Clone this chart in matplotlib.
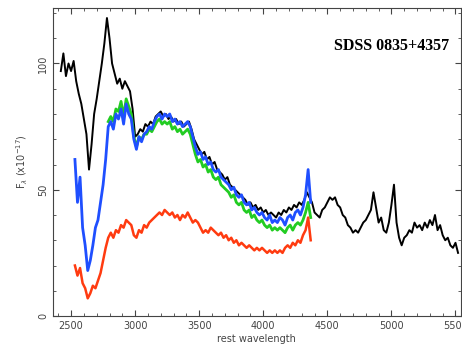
import numpy as np
import matplotlib
matplotlib.use("Agg")
import matplotlib.pyplot as plt
from matplotlib.ticker import MultipleLocator

# flux values, 20 A steps
black_start = 2420
black_flux = [97, 104, 95, 100, 97, 101, 93, 88, 84, 78, 72, 58, 68, 80, 86, 93, 100, 108, 118, 110,
              100, 96, 92, 94, 90, 93, 91, 89, 82, 71, 72, 74, 73, 76, 75, 77, 76, 79, 80, 81,
              79, 80, 78, 79, 77, 78, 76, 77, 75, 76, 77, 74, 70, 68, 66, 64, 65, 62, 63, 60,
              61, 58, 57, 56, 54, 55, 52, 51, 50, 49, 48, 47, 46, 44, 45, 43, 44, 42, 43, 41,
              42, 40, 41, 40, 39, 41, 40, 42, 41, 43, 42, 44, 43, 45, 44, 46, 49, 47, 45, 41,
              40, 39, 42, 43, 45, 47, 46, 47, 44, 43, 40, 39, 36, 35, 33, 34, 33, 35, 37, 38,
              40, 42, 49, 43, 37, 39, 34, 33, 37, 44, 52, 37, 31, 28, 31, 32, 34, 33, 37, 35,
              36, 34, 37, 35, 38, 36, 40, 34, 36, 32, 30, 31, 28, 27, 29, 25]

blue_start = 2530
blue_flux = [62, 45, 55, 35, 28, 18, 22, 28, 35, 38, 45, 52, 62, 75, 77, 74, 80, 78, 82, 76,
             84, 80, 78, 70, 66, 71, 69, 72, 73, 75, 74, 77, 79, 80, 78, 80, 79, 80, 77, 78,
             76, 77, 75, 76, 77, 75, 71, 67, 64, 65, 62, 63, 60, 61, 58, 57, 58, 55, 54, 53,
             52, 50, 51, 48, 47, 48, 45, 44, 45, 42, 43, 41, 40, 41, 39, 38, 40, 37, 38, 37,
             39, 38, 36, 39, 40, 38, 41, 42, 40, 43, 48, 58, 45]

green_start = 2790
green_flux = [77, 79, 77, 82, 81, 85, 79, 86, 83, 80, 71, 67, 71, 70, 72, 72, 74, 73, 75, 77,
              78, 76, 77, 76, 77, 74, 75, 73, 74, 72, 73, 74, 72, 68, 64, 61, 62, 59, 60, 57,
              58, 55, 54, 55, 52, 51, 50, 49, 47, 48, 45, 44, 45, 42, 41, 42, 39, 40, 38, 37,
              38, 36, 35, 36, 34, 35, 34, 35, 34, 33, 35, 36, 34, 36, 37, 36, 38, 41, 45, 39]

red_start = 2530
red_flux = [20, 16, 19, 13, 11, 7, 9, 12, 11, 14, 17, 22, 27, 31, 33, 31, 34, 33, 36, 35,
            38, 37, 36, 32, 31, 34, 33, 36, 35, 37, 38, 39, 40, 41, 40, 42, 41, 40, 41, 39,
            40, 38, 40, 39, 41, 39, 37, 38, 37, 35, 33, 34, 33, 35, 34, 33, 32, 33, 31, 32,
            30, 31, 29, 30, 28, 29, 28, 27, 28, 27, 26, 27, 26, 27, 26, 25, 26, 25, 26, 25,
            26, 25, 27, 28, 27, 29, 28, 30, 29, 32, 34, 39, 30]

title = "SDSS 0835+4357"


def waves(start, flux):
    return start + 20 * np.arange(len(flux))


fig = plt.figure(figsize=(4.62, 3.45), dpi=100)
ax = fig.add_axes([0.115, 0.084, 0.882, 0.893])

ax.plot(waves(black_start, black_flux), black_flux, color="black", lw=1.4)
ax.plot(waves(green_start, green_flux), green_flux, color="#22cc22", lw=2.0)
ax.plot(waves(blue_start, blue_flux), blue_flux, color="#1f4fff", lw=2.0)
ax.plot(waves(red_start, red_flux), red_flux, color="#ff3b10", lw=1.8)

ax.set_xlim(2360, 5540)
ax.set_ylim(0, 122)
ax.xaxis.set_major_locator(MultipleLocator(500))
ax.xaxis.set_minor_locator(MultipleLocator(100))
ax.yaxis.set_major_locator(MultipleLocator(50))
ax.yaxis.set_minor_locator(MultipleLocator(10))
ax.tick_params(which="both", direction="in", top=True, right=True,
               labelsize=7, labelcolor="#444444", color="#444444")
ax.tick_params(which="major", length=4)
ax.tick_params(which="minor", length=2)
for lab in ax.get_yticklabels():
    lab.set_rotation(90)
    lab.set_va("center")
for s in ax.spines.values():
    s.set_color("#444444")
    s.set_linewidth(0.8)

ax.set_xlabel("rest wavelength", fontsize=7, color="#444444", labelpad=2)
ax.set_ylabel(r"F$_\lambda$ (x10$^{-17}$)", fontsize=7, color="#444444", labelpad=6)
ax.text(5000, 107, title, ha="center", va="center", fontsize=11.5,
        fontweight="bold", family="Liberation Serif")

fig.savefig("out.png", dpi=100)
